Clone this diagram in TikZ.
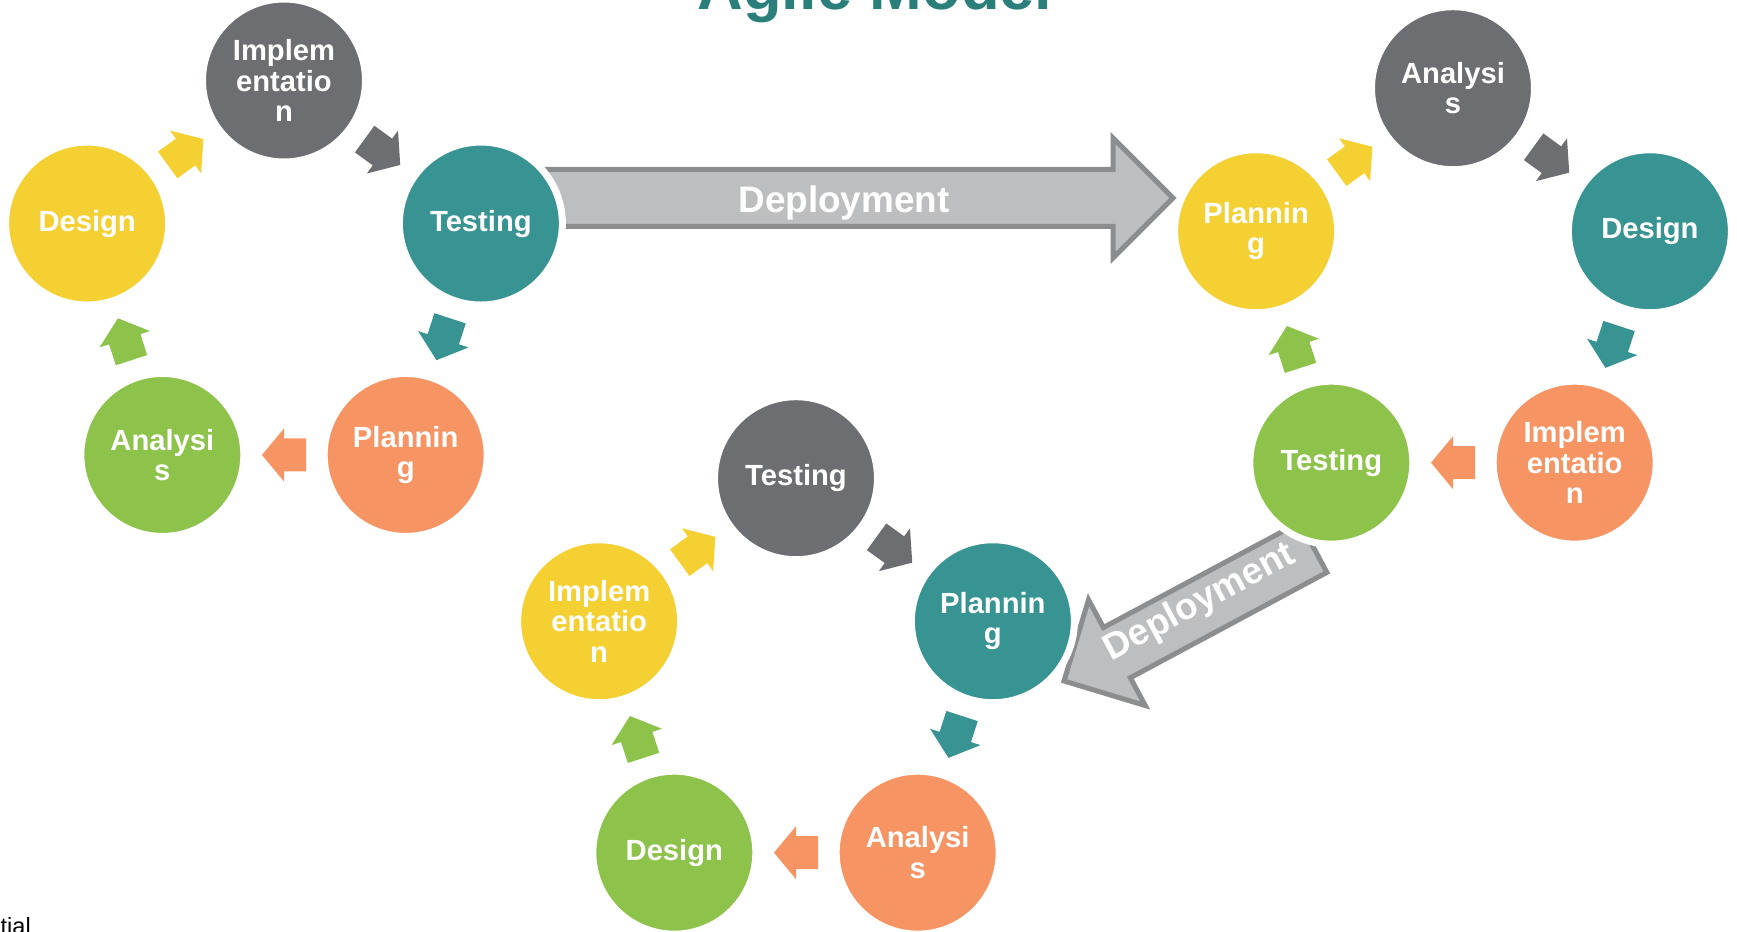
\documentclass[tikz,border=0pt]{standalone}
\usepackage{fontspec}
\setmainfont{Liberation Sans}
\usetikzlibrary{calc}

\definecolor{grayc}{RGB}{109,110,113}
\definecolor{tealc}{RGB}{56,148,147}
\definecolor{orangec}{RGB}{247,148,99}
\definecolor{greenc}{RGB}{141,195,74}
\definecolor{yellowc}{RGB}{245,208,51}
\definecolor{deployfill}{RGB}{188,190,192}
\definecolor{deployline}{RGB}{140,141,143}
\definecolor{titlec}{RGB}{42,127,122}

\begin{document}
\begin{tikzpicture}
  [phase/.style={circle, minimum size=1.63cm, inner sep=0pt, draw=white, line width=2pt,
     text=white, align=center, font=\bfseries\fontsize{8.3}{8.7}\selectfont},
   deploytext/.style={text=white, inner sep=0pt, font=\bfseries\fontsize{10.5}{12}\selectfont},
   pics/cyclearrow/.style={code={
     \fill (-0.22,-0.165) -- (0,-0.165) -- (0,-0.265) -- (0.22,0) -- (0,0.265) -- (0,0.165) -- (-0.22,0.165) -- cycle;}},
   pics/deployarrow/.style={code={
     \draw[fill=deployfill, draw=deployline, line width=0.05cm]
       (0,0) -- (-0.6,0.6) -- (-0.6,0.285) -- (-#1,0.285) -- (-#1,-0.285) -- (-0.6,-0.285) -- (-0.6,-0.6) -- cycle;}}]
  \useasboundingbox (0,0) rectangle (17.37,9.32);

  \node[anchor=base, text=titlec, font=\bfseries\fontsize{18}{20}\selectfont] (title) at (8.75,9.22) {Agile Model};
  \node[anchor=base west, inner sep=0pt, font=\fontsize{6.7}{8}\selectfont] (foot) at (0,-0.03) {tial};

  \coordinate (dep1) at (11.73,7.34);
  \coordinate (dep2) at (10.64,2.51);
  \pic at (dep1) {deployarrow=6.53};
  \pic[rotate=208.2] at (dep2) {deployarrow=2.83};
  \node[deploytext] (dep1label) at (8.44,7.29) {Deployment};
  \node[deploytext, rotate=28.2] (dep2label) at (12.0,3.29) {Deployment};

  \coordinate (L) at (2.84,6.445);
  \coordinate (R) at (14.53,6.368);
  \coordinate (B) at (7.96,2.468);

  \node[phase, fill=grayc]   (Limp)  at ([shift={(90:2.07)}]L)   {Implem\\entatio\\n};
  \node[phase, fill=tealc]   (Ltest) at ([shift={(18:2.07)}]L)   {Testing};
  \node[phase, fill=orangec] (Lplan) at ([shift={(-54:2.07)}]L)  {Plannin\\g};
  \node[phase, fill=greenc]  (Lana)  at ([shift={(-126:2.07)}]L) {Analysi\\s};
  \node[phase, fill=yellowc] (Ldes)  at ([shift={(162:2.07)}]L)  {Design};

  \node[phase, fill=grayc]   (Rana)  at ([shift={(90:2.07)}]R)   {Analysi\\s};
  \node[phase, fill=tealc]   (Rdes)  at ([shift={(18:2.07)}]R)   {Design};
  \node[phase, fill=orangec] (Rimp)  at ([shift={(-54:2.07)}]R)  {Implem\\entatio\\n};
  \node[phase, fill=greenc]  (Rtest) at ([shift={(-126:2.07)}]R) {Testing};
  \node[phase, fill=yellowc] (Rplan) at ([shift={(162:2.07)}]R)  {Plannin\\g};

  \node[phase, fill=grayc]   (Btest) at ([shift={(90:2.07)}]B)   {Testing};
  \node[phase, fill=tealc]   (Bplan) at ([shift={(18:2.07)}]B)   {Plannin\\g};
  \node[phase, fill=orangec] (Bana)  at ([shift={(-54:2.07)}]B)  {Analysi\\s};
  \node[phase, fill=greenc]  (Bdes)  at ([shift={(-126:2.07)}]B) {Design};
  \node[phase, fill=yellowc] (Bimp)  at ([shift={(162:2.07)}]B)  {Implem\\entatio\\n};

  \pic[fill=grayc, rotate=-36]   at ($(Limp)!0.5!(Ltest)$) {cyclearrow};
  \pic[fill=tealc, rotate=-108]  at ($(Ltest)!0.5!(Lplan)$) {cyclearrow};
  \pic[fill=orangec, rotate=180] at ($(Lplan)!0.5!(Lana)$) {cyclearrow};
  \pic[fill=greenc, rotate=108]  at ($(Lana)!0.5!(Ldes)$) {cyclearrow};
  \pic[fill=yellowc, rotate=36]  at ($(Ldes)!0.5!(Limp)$) {cyclearrow};

  \pic[fill=grayc, rotate=-36]   at ($(Rana)!0.5!(Rdes)$) {cyclearrow};
  \pic[fill=tealc, rotate=-108]  at ($(Rdes)!0.5!(Rimp)$) {cyclearrow};
  \pic[fill=orangec, rotate=180] at ($(Rimp)!0.5!(Rtest)$) {cyclearrow};
  \pic[fill=greenc, rotate=108]  at ($(Rtest)!0.5!(Rplan)$) {cyclearrow};
  \pic[fill=yellowc, rotate=36]  at ($(Rplan)!0.5!(Rana)$) {cyclearrow};

  \pic[fill=grayc, rotate=-36]   at ($(Btest)!0.5!(Bplan)$) {cyclearrow};
  \pic[fill=tealc, rotate=-108]  at ($(Bplan)!0.5!(Bana)$) {cyclearrow};
  \pic[fill=orangec, rotate=180] at ($(Bana)!0.5!(Bdes)$) {cyclearrow};
  \pic[fill=greenc, rotate=108]  at ($(Bdes)!0.5!(Bimp)$) {cyclearrow};
  \pic[fill=yellowc, rotate=36]  at ($(Bimp)!0.5!(Btest)$) {cyclearrow};
\end{tikzpicture}
\end{document}
